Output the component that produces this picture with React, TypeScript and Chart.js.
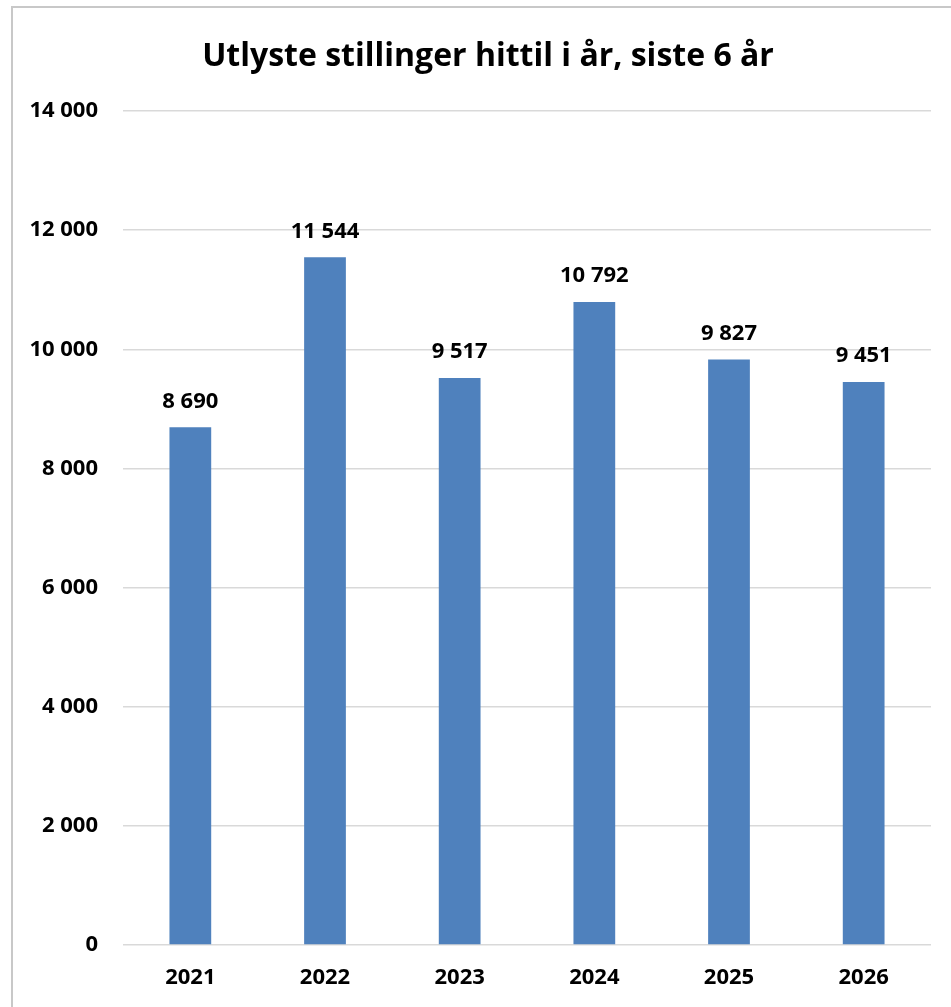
import React, { useEffect, useRef } from "react";
import { Chart, registerables } from "chart.js";

Chart.register(...registerables);

const title = "Utlyste stillinger hittil i år, siste 6 år";
const categories = ["2021", "2022", "2023", "2024", "2025", "2026"];
const values = [8690, 11544, 9517, 10792, 9827, 9451];
const yMin = 0;
const yMax = 14000;
const yStep = 2000;

const FONT = "'Open Sans'";
const fmt = (v: number) => String(Math.round(v)).replace(/\B(?=(\d{3})+(?!\d))/g, " ");

const dataLabels = {
  id: "dataLabels",
  afterDatasetsDraw(chart: any) {
    const ctx = chart.ctx;
    const meta = chart.getDatasetMeta(0);
    ctx.save();
    ctx.font = `bold 22px ${FONT}`;
    ctx.fillStyle = "#000";
    ctx.textAlign = "center";
    ctx.textBaseline = "middle";
    meta.data.forEach((el: any, i: number) => {
      ctx.fillText(fmt(values[i]), el.x, el.y - 26);
    });
    ctx.restore();
  },
};

const frameAndTitle = {
  id: "frameAndTitle",
  afterDraw(chart: any) {
    const ctx = chart.ctx;
    ctx.save();
    ctx.strokeStyle = "#c8c8c8";
    ctx.lineWidth = 2;
    ctx.beginPath();
    ctx.moveTo(12, chart.height);
    ctx.lineTo(12, 7);
    ctx.lineTo(chart.width, 7);
    ctx.stroke();
    ctx.font = `bold 32px ${FONT}`;
    ctx.fillStyle = "#000";
    ctx.textAlign = "center";
    ctx.textBaseline = "alphabetic";
    ctx.fillText(title, 488, 66);
    ctx.restore();
  },
};

export default function App() {
  const ref = useRef<HTMLCanvasElement>(null);
  useEffect(() => {
    if (!ref.current) return;
    const chart = new Chart(ref.current, {
      type: "bar",
      data: {
        labels: categories,
        datasets: [
          {
            data: values,
            backgroundColor: "#4F81BD",
            categoryPercentage: 1,
            barPercentage: 0.31,
          },
        ],
      },
      options: {
        animation: false,
        responsive: false,
        maintainAspectRatio: false,
        layout: { padding: { left: 12, right: 20, top: 8, bottom: 12 } },
        plugins: {
          legend: { display: false },
          tooltip: { enabled: false },
          title: {
            display: true,
            text: title,
            color: "rgba(0,0,0,0)",
            font: { family: FONT, size: 31, weight: "bold", lineHeight: 1.2 },
            padding: { top: 28, bottom: 37.8 },
          },
        },
        scales: {
          x: {
            grid: { display: false, drawTicks: false },
            border: { display: false },
            ticks: { color: "#000", font: { family: FONT, size: 22, weight: "bold" }, padding: 20 },
            afterFit(s: any) {
              s.height = 50;
            },
          },
          y: {
            min: yMin,
            max: yMax,
            grid: { color: "#d9d9d9", lineWidth: 1.5, drawTicks: false },
            border: { display: false },
            ticks: {
              stepSize: yStep,
              color: "#000",
              padding: 25,
              font: { family: FONT, size: 22, weight: "bold" },
              callback: (v: any) => fmt(Number(v)),
            },
            afterFit(s: any) {
              s.width = 111;
            },
          },
        },
      },
      plugins: [dataLabels, frameAndTitle],
    });
    return () => chart.destroy();
  }, []);
  return (
    <div style={{ position: "fixed", left: 0, top: 0, width: 951, height: 1007, background: "#fff" }}>
      <canvas ref={ref} width={951} height={1007} style={{ width: 951, height: 1007 }} />
    </div>
  );
}
